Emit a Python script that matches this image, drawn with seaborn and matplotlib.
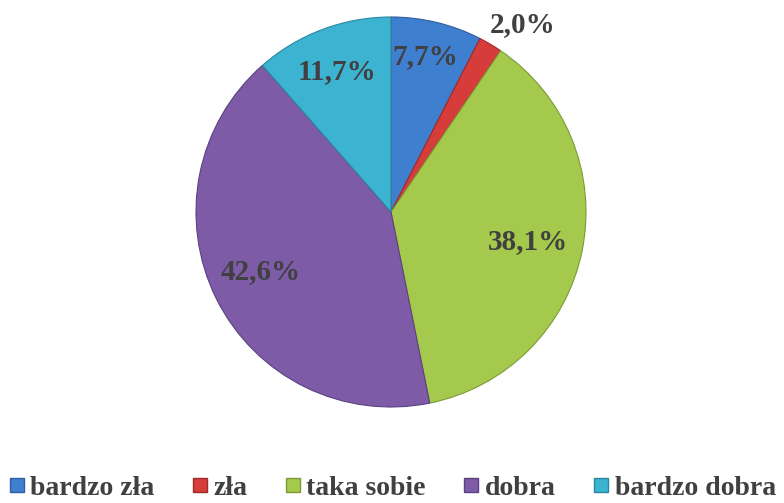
import numpy as np
import matplotlib
matplotlib.use("Agg")
import matplotlib.pyplot as plt
import seaborn as sns

# dane do wykresu
categories = ["bardzo zła", "zła", "taka sobie", "dobra", "bardzo dobra"]
values = [7.7, 2.0, 38.1, 42.6, 11.7]
colors = ["#3F7FCF", "#D63C3A", "#A5C94C", "#7D5BA6", "#3BB3D1"]
edge_colors = ["#2F5F9E", "#9E2B29", "#7C9A35", "#5B4180", "#2B87A0"]

sns.set_theme(style="white")
plt.rcParams['font.family'] = ['Liberation Serif', 'DejaVu Serif']

fig = plt.figure(figsize=(7.84, 5.03), dpi=100)
ax = fig.add_axes([(391 - 195) / 784, (503 - 212 - 195) / 503, 390 / 784, 390 / 503])

wedges, _ = ax.pie(values, colors=colors, startangle=90, counterclock=False,
                   wedgeprops=dict(linewidth=0.8))
for w, ec in zip(wedges, edge_colors):
    w.set_edgecolor(ec)

# etykiety: promień i przesunięcie kąta względem środka wycinka
label_r = [0.815, 1.175, 0.72, 0.735, 0.77]
label_dang = [1.2, -4.5, -0.6, -1.6, 0.4]
for w, v, r, da in zip(wedges, values, label_r, label_dang):
    ang = np.deg2rad((w.theta1 + w.theta2) / 2 + da)
    ax.text(r * np.cos(ang), r * np.sin(ang), f"{v:.1f}%".replace(".", ","),
            ha="center", va="center", fontsize=21, fontweight="bold", color="#404040")

ax.set_xlim(-1, 1)
ax.set_ylim(-1, 1)
ax.set_aspect("equal")

handles = [plt.Line2D([], [], marker="s", linestyle="", markersize=10,
                      markerfacecolor=c, markeredgecolor=ec)
           for c, ec in zip(colors, edge_colors)]
leg = fig.legend(handles, categories, loc="lower center", bbox_to_anchor=(0.5, -0.045),
                 ncol=5, frameon=False, handlelength=0.6, handletextpad=0.2,
                 columnspacing=1.32, prop=dict(family="Liberation Serif", size=20, weight="bold"))
for t in leg.get_texts():
    t.set_color("#404040")

fig.savefig("out.png", dpi=100)
